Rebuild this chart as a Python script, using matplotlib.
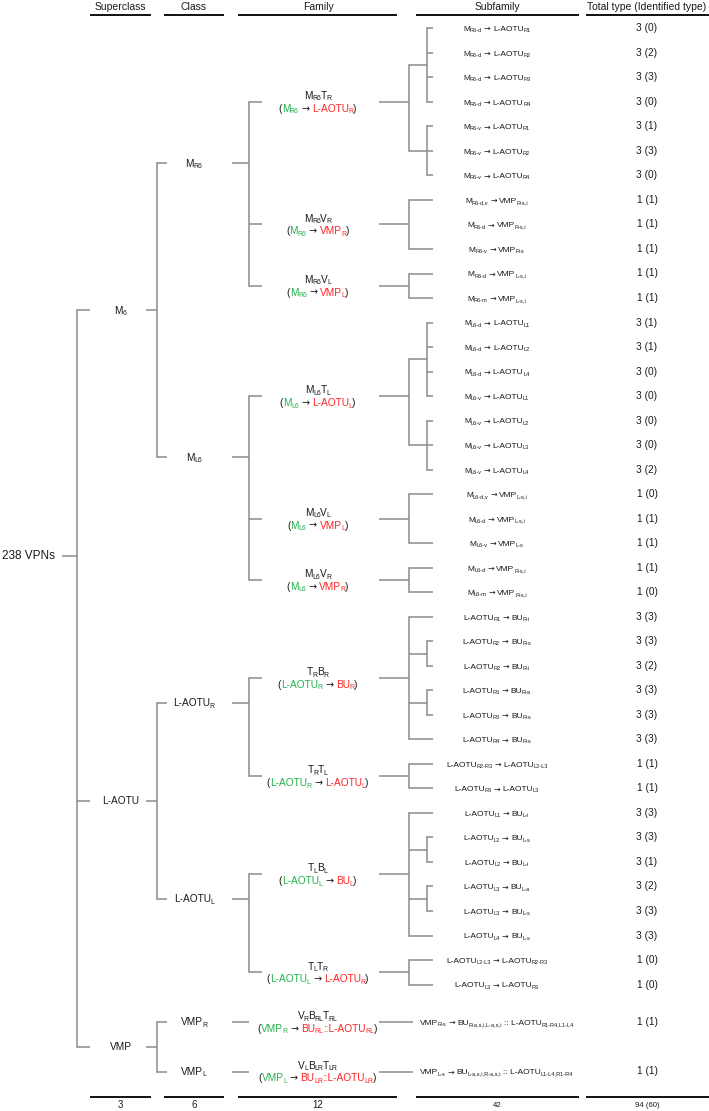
import re
import numpy as np
import matplotlib
matplotlib.use("Agg")
import matplotlib.pyplot as plt

# ---------------- data ----------------
root_label = "238 VPNs"
column_headers = ["Superclass", "Class", "Family", "Subfamily", "Total type (Identified type)"]
column_totals = ["3", "6", "12", "42", "94 (60)"]

superclasses = ["M_{6}", "L-AOTU", "VMP"]
classes = ["M_{R6}", "M_{L6}", "L-AOTU_{R}", "L-AOTU_{L}", "VMP_{R}", "VMP_{L}"]
class_superclass = [0, 0, 1, 1, 2, 2]

family_names = ["M_{R6}T_{R}", "M_{R6}V_{R}", "M_{R6}V_{L}", "M_{L6}T_{L}", "M_{L6}V_{L}",
                "M_{L6}V_{R}", "T_{R}B_{R}", "T_{R}T_{L}", "T_{L}B_{L}", "T_{L}T_{R}",
                "V_{R}B_{RL}T_{RL}", "V_{L}B_{LR}T_{LR}"]
family_sources = ["M_{R6}", "M_{R6}", "M_{R6}", "M_{L6}", "M_{L6}", "M_{L6}",
                  "L-AOTU_{R}", "L-AOTU_{R}", "L-AOTU_{L}", "L-AOTU_{L}", "VMP_{R}", "VMP_{L}"]
family_targets = ["L-AOTU_{R}", "VMP_{R}", "VMP_{L}", "L-AOTU_{L}", "VMP_{L}", "VMP_{R}",
                  "BU_{R}", "L-AOTU_{L}", "BU_{L}", "L-AOTU_{R}",
                  "BU_{RL}::L-AOTU_{RL}", "BU_{LR}::L-AOTU_{LR}"]
family_class = [0, 0, 0, 1, 1, 1, 2, 2, 3, 3, 4, 5]

subfamilies = [
    "M_{R6-d} → L-AOTU_{R1}", "M_{R6-d} → L-AOTU_{R2}", "M_{R6-d} → L-AOTU_{R3}",
    "M_{R6-d} → L-AOTU_{R4}", "M_{R6-v} → L-AOTU_{R1}", "M_{R6-v} → L-AOTU_{R2}",
    "M_{R6-v} → L-AOTU_{R4}",
    "M_{R6-d,v} → VMP_{R-s,i}", "M_{R6-d} → VMP_{R-s,i}", "M_{R6-v} → VMP_{R-s}",
    "M_{R6-d} → VMP_{L-s,i}", "M_{R6-m} → VMP_{L-s,i}",
    "M_{L6-d} → L-AOTU_{L1}", "M_{L6-d} → L-AOTU_{L2}", "M_{L6-d} → L-AOTU_{L4}",
    "M_{L6-v} → L-AOTU_{L1}", "M_{L6-v} → L-AOTU_{L2}", "M_{L6-v} → L-AOTU_{L3}",
    "M_{L6-v} → L-AOTU_{L4}",
    "M_{L6-d,v} → VMP_{L-s,i}", "M_{L6-d} → VMP_{L-s,i}", "M_{L6-v} → VMP_{L-s}",
    "M_{L6-d} → VMP_{R-s,i}", "M_{L6-m} → VMP_{R-s,i}",
    "L-AOTU_{R1} → BU_{R-i}", "L-AOTU_{R2} → BU_{R-s}", "L-AOTU_{R2} → BU_{R-i}",
    "L-AOTU_{R3} → BU_{R-a}", "L-AOTU_{R3} → BU_{R-s}", "L-AOTU_{R4} → BU_{R-s}",
    "L-AOTU_{R2-R3} → L-AOTU_{L2-L3}", "L-AOTU_{R3} → L-AOTU_{L3}",
    "L-AOTU_{L1} → BU_{L-i}", "L-AOTU_{L2} → BU_{L-s}", "L-AOTU_{L2} → BU_{L-i}",
    "L-AOTU_{L3} → BU_{L-a}", "L-AOTU_{L3} → BU_{L-s}", "L-AOTU_{L4} → BU_{L-s}",
    "L-AOTU_{L2-L3} → L-AOTU_{R2-R3}", "L-AOTU_{L3} → L-AOTU_{R3}",
    "VMP_{R-s} → BU_{R-a,s,i,L-a,s,i} :: L-AOTU_{R1-R4,L1-L4}",
    "VMP_{L-s} → BU_{L-a,s,i,R-a,s,i} :: L-AOTU_{L1-L4,R1-R4}",
]
subfamily_family = ([0] * 7 + [1] * 3 + [2] * 2 + [3] * 7 + [4] * 3 + [5] * 2 +
                    [6] * 6 + [7] * 2 + [8] * 6 + [9] * 2 + [10] + [11])
# sub-cluster id inside a family (-1 = attached directly to the family)
subfamily_cluster = ([0] * 4 + [1] * 3 + [-1] * 5 + [2] * 4 + [3] * 3 + [-1] * 5 +
                     [-1, 4, 4, 5, 5, -1] + [-1, -1] + [-1, 6, 6, 7, 7, -1] +
                     [-1, -1] + [-1, -1])
total_types = [3, 3, 3, 3, 3, 3, 3, 1, 1, 1, 1, 1,
               3, 3, 3, 3, 3, 3, 3, 1, 1, 1, 1, 1,
               3, 3, 3, 3, 3, 3, 1, 1,
               3, 3, 3, 3, 3, 3, 1, 1, 1, 1]
identified_types = [0, 2, 3, 0, 1, 3, 0, 1, 1, 1, 1, 1,
                    1, 1, 0, 0, 0, 0, 2, 0, 1, 1, 1, 0,
                    3, 3, 2, 3, 3, 3, 1, 1,
                    3, 3, 1, 2, 3, 3, 0, 0, 1, 1]

# ---------------- layout ----------------
W, H = 709, 1111
FAM = ['Liberation Sans', 'DejaVu Sans']
ARROW_FAM = ['DejaVu Sans']
PX = 100 / 72
TEXT = '#1a1a1a'
GREEN = '#22b14c'
RED = '#ff2424'
LINE = '#8c8c8c'

ROW0, ROWSTEP = 28.3, 24.52
VMP_ROW0, VMP_ROWSTEP = 1022.0, 49.5
ROOT_Y = 556
HEADER_Y, HEADER_LINE_Y = 6.5, 14.7
FOOT_LINE_Y, FOOT_Y = 1096.5, 1105.5
SUB_KERN = 0.45  # px tightening around subscripts

col_x = [120.5, 194, 318, 497, 647]
col_lines = [(90, 151), (163.5, 224), (237.5, 397), (416, 579), (586, 709)]

fig = plt.figure(figsize=(W / 100, H / 100), dpi=100)
ax = fig.add_axes([0, 0, 1, 1])
ax.set_xlim(0, W)
ax.set_ylim(H, 0)
ax.axis('off')
renderer = fig.canvas.get_renderer()

_cache = {}


def advance(s, size, fam):
    key = (s, size, tuple(fam))
    if key not in _cache:
        t1 = ax.text(0, 0, '|' + s + '|', fontsize=size, family=fam)
        t2 = ax.text(0, 0, '||', fontsize=size, family=fam)
        w = (t1.get_window_extent(renderer).width -
             t2.get_window_extent(renderer).width)
        t1.remove()
        t2.remove()
        _cache[key] = w
    return _cache[key]


def parse(markup):
    """split markup into (text, is_subscript, is_arrow) pieces"""
    out, pos = [], 0
    for m in re.finditer(r'_\{([^}]*)\}|→', markup):
        if m.start() > pos:
            out.append((markup[pos:m.start()], False, False))
        if m.group(0) == '→':
            out.append(('→', False, True))
        else:
            out.append((m.group(1), True, False))
        pos = m.end()
    if pos < len(markup):
        out.append((markup[pos:], False, False))
    return out


def rich(x, yc, chunks, size, ha='center', sub_ratio=0.68):
    if isinstance(chunks, str):
        chunks = [(chunks, TEXT)]
    segs = []
    for markup, col in chunks:
        for txt, sub, arrow in parse(markup):
            fs = size * sub_ratio if sub else (size * 0.95 if arrow else size)
            segs.append((txt, col, sub, fs, ARROW_FAM if arrow else FAM))
    widths = []
    for k, (t, c, s, fs, fam) in enumerate(segs):
        w = advance(t, fs, fam)
        if s:
            w -= SUB_KERN
        widths.append(w)
    total = sum(widths)
    x0 = {'center': x - total / 2, 'left': x, 'right': x - total}[ha]
    base = yc + 0.69 * size * PX / 2
    cur = x0
    for (t, col, sub, fs, fam), w in zip(segs, widths):
        if sub:
            cur -= SUB_KERN
        stripped = t.lstrip(' ')
        lead = len(t) - len(stripped)
        xs = cur + (advance(' ' * lead, fs, fam) if lead else 0)
        if stripped.strip():
            ax.text(xs, base + (0.14 * size * PX if sub else 0), stripped,
                    fontsize=fs, color=col, family=fam, ha='left', va='baseline')
        cur += w + (SUB_KERN if sub else 0)
        if sub:
            cur -= SUB_KERN


def hline(x1, x2, y, color=LINE, lw=1.1):
    ax.plot([x1, x2], [y, y], color=color, lw=lw, solid_capstyle='butt')


def vline(x, y1, y2, color=LINE, lw=1.1):
    ax.plot([x, x], [y1, y2], color=color, lw=lw, solid_capstyle='projecting')


# leaf positions
n = len(subfamilies)
leaf_y = np.array([ROW0 + ROWSTEP * i if subfamily_family[i] < 10
                   else VMP_ROW0 + VMP_ROWSTEP * (subfamily_family[i] - 10)
                   for i in range(n)])
sf_fam = np.array(subfamily_family)
fam_cls = np.array(family_class)
cls_sup = np.array(class_superclass)

fam_y = np.array([leaf_y[sf_fam == f].mean() for f in range(len(family_names))])
cls_y = np.array([leaf_y[fam_cls[sf_fam] == c].mean() for c in range(len(classes))])
sup_y = np.array([leaf_y[cls_sup[fam_cls[sf_fam]] == s].mean()
                  for s in range(len(superclasses))])

# x layout of the tree
X_ROOT_STUB = 62
X_SUP_V, X_SUP_L, X_SUP_R = 77, 90, 146
X_CLS_V, X_CLS_L, X_CLS_R = 157, 167, 232
X_FAM_V, X_FAM_L, X_FAM_R = 249, 262, 379
X_SUB_V, X_CLU_V, X_LEAF = 409, 427, 433
X_SINGLE_END = 413

# headers / footers
for i, h in enumerate(column_headers):
    ax.text(col_x[i], HEADER_Y, h, fontsize=7.5, family=FAM, color=TEXT,
            ha='center', va='center')
    hline(col_lines[i][0], col_lines[i][1], HEADER_LINE_Y, color='#111111', lw=1.4)
    hline(col_lines[i][0], col_lines[i][1], FOOT_LINE_Y, color='#111111', lw=1.4)
    ax.text(col_x[i], FOOT_Y, column_totals[i], fontsize=7 if i < 3 else 5.6,
            family=FAM, color=TEXT, ha='center', va='center')

# root
ax.text(1.5, ROOT_Y, root_label, fontsize=8.5, family=FAM, color=TEXT,
        ha='left', va='center')
hline(X_ROOT_STUB, X_SUP_V, ROOT_Y)
vline(X_SUP_V, sup_y.min(), sup_y.max())

# superclasses
for s, lab in enumerate(superclasses):
    y = sup_y[s]
    hline(X_SUP_V, X_SUP_L, y)
    rich(col_x[0], y, lab, 7.3)
    cys = cls_y[cls_sup == s]
    hline(X_SUP_R, X_CLS_V, y)
    vline(X_CLS_V, cys.min(), cys.max())
    for cy in cys:
        hline(X_CLS_V, X_CLS_L, cy)

# classes
for c, lab in enumerate(classes):
    y = cls_y[c]
    rich(col_x[1], y, lab, 7.3)
    fys = fam_y[fam_cls == c]
    hline(X_CLS_R, X_FAM_V, y)
    if len(fys) > 1:
        vline(X_FAM_V, fys.min(), fys.max())
        for fy in fys:
            hline(X_FAM_V, X_FAM_L, fy)

# families
for f in range(len(family_names)):
    y = fam_y[f]
    rich(col_x[2], y - 6.3, family_names[f], 7.3)
    rich(col_x[2], y + 6.5, [("(", TEXT), (family_sources[f], GREEN), (" → ", TEXT),
                             (family_targets[f], RED), (")", TEXT)], 7.3)
    leaves = np.where(sf_fam == f)[0]
    if len(leaves) == 1:
        hline(X_FAM_R, X_SINGLE_END, leaf_y[leaves[0]])
        continue
    hline(X_FAM_R, X_SUB_V, y)
    child_ys = []
    seen = set()
    for i in leaves:
        cl = subfamily_cluster[i]
        if cl < 0:
            child_ys.append(leaf_y[i])
            if abs(leaf_y[i] - y) > 0.5:
                hline(X_SUB_V, X_LEAF, leaf_y[i])
        elif cl not in seen:
            seen.add(cl)
            members = [j for j in leaves if subfamily_cluster[j] == cl]
            my = leaf_y[members]
            cy = my.mean()
            child_ys.append(cy)
            hline(X_SUB_V, X_CLU_V, cy)
            vline(X_CLU_V, my.min(), my.max())
            for yy in my:
                hline(X_CLU_V, X_LEAF, yy)
    vline(X_SUB_V, min(child_ys), max(child_ys))

# subfamilies and counts
for i, lab in enumerate(subfamilies):
    rich(col_x[3], leaf_y[i], lab, 6.0)
    ax.text(col_x[4], leaf_y[i], f"{total_types[i]} ({identified_types[i]})",
            fontsize=7.3, family=FAM, color=TEXT, ha='center', va='center')

fig.savefig("out.png", dpi=100)
